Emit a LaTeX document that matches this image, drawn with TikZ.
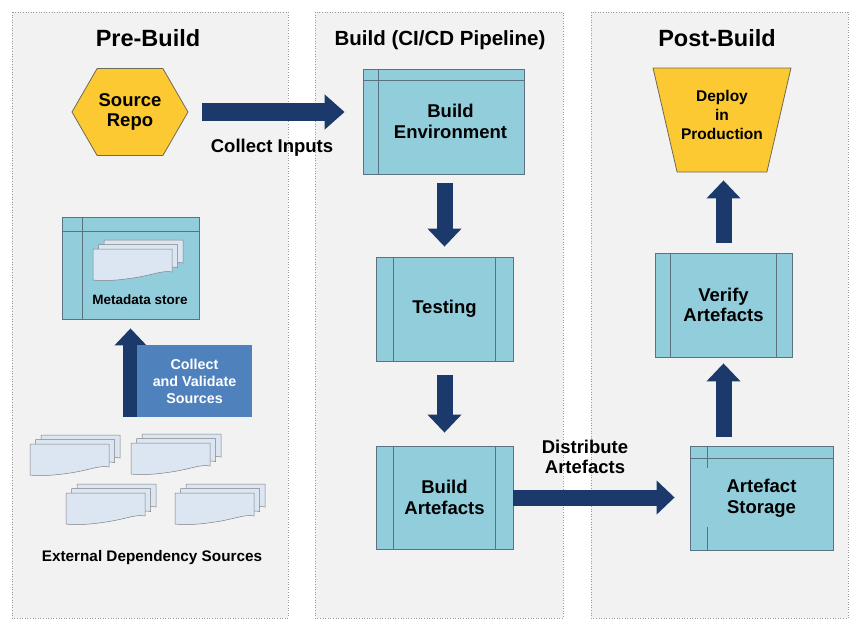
\documentclass[tikz,border=0pt]{standalone}
\usepackage{fontspec}
\setmainfont{Liberation Sans}
\usetikzlibrary{arrows.meta,positioning,shapes.geometric,shapes.symbols}

\definecolor{panelgray}{HTML}{F2F2F2}
\definecolor{panelline}{HTML}{9A9A9A}
\definecolor{boxteal}{HTML}{92CDDC}
\definecolor{boxline}{HTML}{5B7380}
\definecolor{arrownavy}{HTML}{1B3A6B}
\definecolor{repogold}{HTML}{FCC932}
\definecolor{repoline}{HTML}{6E6A5A}
\definecolor{stepblue}{HTML}{4F81BD}
\definecolor{sheetblue}{HTML}{DCE6F2}
\definecolor{sheetline}{HTML}{7F7F7F}

% a stack of three sheets, front sheet with its top left corner at (#1,#2)
\newcommand{\docsheets}[2]{%
  \begin{scope}[shift={(#1,#2)}]
    \foreach \k in {2,1,0}
      \filldraw[sheet, shift={(5.5*\k,-4.5*\k)}] (0,0) -- (79,0) -- (79,23)
        .. controls (70,21) and (60,26) .. (40,29)
        .. controls (20,32) and (8,32) .. (0,31) -- cycle;
  \end{scope}}

\begin{document}
\begin{tikzpicture}[x=1pt, y=-1pt,
    panel/.style={draw=panelline, fill=panelgray, dotted, line width=0.6pt},
    phase/.style={font=\fontsize{23.5}{26}\selectfont\bfseries},
    boxtext/.style={font=\fontsize{18.5}{20.5}\selectfont\bfseries, align=center},
    procbox/.style={boxtext, rectangle, draw=boxline, fill=boxteal, line width=0.8pt,
      minimum width=137pt, minimum height=104pt},
    boxrule/.style={draw=boxline, line width=0.8pt},
    repo/.style={boxtext, signal, signal to=east and west, signal pointer angle=120,
      draw=repoline, fill=repogold, line width=0.8pt, inner sep=0pt,
      minimum width=116pt, minimum height=87pt},
    goal/.style={trapezium, shape border rotate=180, trapezium left angle=75,
      trapezium right angle=75, trapezium stretches=true, draw=repoline, fill=repogold,
      line width=0.8pt, minimum width=138pt, minimum height=104pt},
    goaltext/.style={align=center, font=\fontsize{15.5}{19}\selectfont\bfseries},
    stepbox/.style={rectangle, fill=stepblue, text=white, align=center,
      minimum width=115pt, minimum height=72pt,
      font=\fontsize{14.3}{17}\selectfont\bfseries},
    smalltext/.style={font=\fontsize{13.5}{16}\selectfont\bfseries},
    sheet/.style={draw=sheetline, fill=sheetblue, line width=0.5pt},
    blockarrow/.style={draw=arrownavy, line width=16pt, -{Triangle[width=33pt,length=18pt]}}
  ]
  \fill[white] (0,0) rectangle (860,630);
  \useasboundingbox (0,0) rectangle (860,630);

  % the three phases
  \path[panel] (12,12) rectangle (288,618);
  \path[panel] (315,12) rectangle (563,618);
  \path[panel] (591,12) rectangle (848,618);
  \node[phase] (pretitle) at (148,38) {Pre-Build};
  \node[phase, font=\fontsize{20.5}{24}\selectfont\bfseries] (buildtitle) at (440,40) {Build (CI/CD Pipeline)};
  \node[phase] (posttitle) at (717,38) {Post-Build};

  % pre-build
  \node[repo] (src) at (130,112) {Source\\Repo};
  \node[procbox, minimum height=102pt] (meta) at (130.5,268) {};
  \draw[boxrule] ([yshift=-15pt]meta.north west) -- ([yshift=-15pt]meta.north east);
  \draw[boxrule] ([xshift=21pt]meta.north west) -- ([xshift=21pt]meta.south west);
  \docsheets{93}{249}
  \node[smalltext] (metatxt) at (140,300) {Metadata store};
  \draw[blockarrow, line width=15pt, -{Triangle[width=31pt,length=17pt]}, shorten >=9pt]
    (meta.south |- 0,417) -- (meta.south);
  \node[stepbox] (valid) at (194.5,381) {Collect\\and Validate\\Sources};
  \docsheets{30}{444}
  \docsheets{131}{443}
  \docsheets{66}{493}
  \docsheets{175}{493}
  \node[smalltext, font=\fontsize{15.3}{18}\selectfont\bfseries] (extlbl) at (152,558) {External Dependency Sources};

  % build
  \node[procbox, minimum width=161pt, minimum height=105pt,
    label={[boxtext, xshift=7pt]center:Build\\Environment}] (env) at (443.5,121.5) {};
  \draw[boxrule] ([yshift=-12pt]env.north west) -- ([yshift=-12pt]env.north east);
  \draw[boxrule] ([xshift=16pt]env.north west) -- ([xshift=16pt]env.south west);
  \node[procbox] (test) at (444.5,309) {Testing};
  \node[procbox, minimum height=103pt] (art) at (444.5,497.5) {Build\\Artefacts};
  \foreach \n in {test,art} {
    \draw[boxrule] ([xshift=18pt]\n.north west) -- ([xshift=18pt]\n.south west);
    \draw[boxrule] ([xshift=-18pt]\n.north east) -- ([xshift=-18pt]\n.south east);
  }

  % post-build
  \node[goal, label={[goaltext, yshift=5pt]center:Deploy\\in\\Production}] (deploy) at (722,120) {};
  \node[procbox] (verify) at (723.5,305) {Verify\\Artefacts};
  \draw[boxrule] ([xshift=16pt]verify.north west) -- ([xshift=16pt]verify.south west);
  \draw[boxrule] ([xshift=-16pt]verify.north east) -- ([xshift=-16pt]verify.south east);
  \node[procbox, minimum width=143pt] (store) at (761.5,498) {Artefact\\Storage};
  \draw[boxrule] ([yshift=-13pt]store.north west) -- ([yshift=-13pt]store.north east);
  \draw[boxrule] ([xshift=18pt]store.north west) -- ++(0,22);
  \draw[boxrule] ([xshift=18pt]store.south west) -- ++(0,-23);

  % flow
  \draw[blockarrow, line width=18pt, -{Triangle[width=34pt,length=20pt]},
    shorten <=14pt, shorten >=18pt] (src.east) -- (src.east -| env.west);
  \node[boxtext] (inlbl) at (272,148) {Collect Inputs};
  \draw[blockarrow, shorten <=9pt, shorten >=10pt] (test.north |- env.south) -- (test.north);
  \draw[blockarrow, shorten <=14pt, shorten >=13pt] (test.south) -- (art.north);
  \draw[blockarrow, shorten >=15pt] (art.east) -- (art.east -| store.west);
  \node[boxtext] (distlbl) at (585,457) {Distribute\\Artefacts};
  \draw[blockarrow, shorten <=9pt, shorten >=6pt] (verify.south |- store.north) -- (verify.south);
  \draw[blockarrow, shorten <=10pt, shorten >=8pt] (verify.north) -- (verify.north |- deploy.south);
\end{tikzpicture}
\end{document}
